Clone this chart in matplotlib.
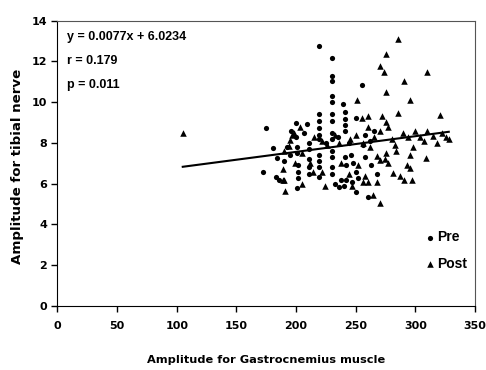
import numpy as np
import matplotlib
matplotlib.use('Agg')
import matplotlib.pyplot as plt

plt.rcParams['font.family'] = ['Liberation Sans', 'DejaVu Sans']
plt.rcParams['font.weight'] = 'bold'

# Pre (circulos)
pre_x = [175, 172, 181, 184, 183, 186,
         200, 209, 219.5, 229.8, 229.8, 229.8, 229.8, 229.8, 239.5, 255, 250,
         219.5, 219.5, 219.5, 219.5, 219.5, 219.5, 219.5, 219.5, 219.5,
         229.8, 229.8, 229.8, 229.8, 229.8, 229.8, 229.8, 229.8,
         241, 241, 241, 241, 241, 242, 242, 240,
         200, 196, 201, 201, 202, 202, 202, 200.5,
         211, 211, 211, 211, 211,
         233, 236, 238, 246, 248, 250, 252, 247,
         250, 260, 256, 262, 258, 192, 195, 190,
         207, 225, 235, 244, 265, 263, 268, 258]
pre_y = [8.73, 6.6, 7.74, 7.25, 6.35, 6.2,
         8.97, 8.94, 12.77, 12.17, 11.3, 11.05, 10.3, 10.0, 9.92, 10.85, 9.23,
         9.4, 9.1, 8.75, 8.4, 8.2, 7.4, 7.1, 6.8, 6.35,
         9.4, 9.1, 8.5, 8.2, 7.6, 7.3, 6.8, 6.5,
         9.5, 9.2, 8.9, 8.6, 7.3, 6.9, 6.2, 5.9,
         8.3, 8.6, 7.8, 7.5, 6.9, 6.6, 6.3, 5.8,
         8.0, 7.7, 7.2, 6.8, 6.5,
         6.0, 5.85, 6.2, 7.4, 7.0, 6.6, 6.3, 6.1,
         5.57, 5.34, 7.9, 8.1, 8.4, 7.8, 7.4, 7.1,
         8.5, 8.0, 8.3, 8.0, 8.6, 6.9, 6.5, 7.3]

# Post (triangulos)
post_x = [105, 285.7, 275.4, 270.3, 273.7, 309.5, 290.4, 275.4, 295.5, 250.8,
          285.7, 320.6, 260.5, 255, 271.7, 275.4,
          290, 294, 300, 304, 315, 326, 322, 310,
          194, 308.9, 295.5, 293.2, 295.5, 296.9, 281.2, 287.1, 290.4,
          275.4, 274.5, 277, 267.5, 270.3, 268, 260.5, 256.3, 264.7, 270.3,
          190.7, 188.7, 188.7, 189.9,
          195, 198, 203, 197, 190, 199, 205, 215, 222, 226, 233, 236, 245,
          250, 256, 262, 265, 280, 283, 298, 307, 318, 328, 212, 214, 222,
          238, 244, 252, 258, 247, 205, 224, 284, 270, 277, 260]
post_y = [8.5, 13.1, 12.38, 11.79, 11.5, 11.5, 11.02, 10.48, 10.12, 10.12,
          9.46, 9.38, 9.33, 9.23, 9.3, 9.05,
          8.5, 8.3, 8.6, 8.3, 8.35, 8.3, 8.5, 8.6,
          7.86, 7.25, 7.42, 6.93, 6.78, 6.19, 6.53, 6.39, 6.19,
          7.51, 7.22, 7.04, 7.37, 7.17, 6.07, 6.07, 6.07, 5.45, 5.04,
          5.66, 6.7, 6.2, 6.19,
          8.15, 8.5, 8.8, 8.4, 7.6, 7.0, 6.0, 8.3, 8.1, 7.9, 8.4, 8.0, 8.2,
          8.4, 8.0, 7.8, 8.3, 8.2, 7.9, 7.8, 8.1, 8.0, 8.2, 7.0, 6.6, 6.6,
          7.0, 6.5, 6.9, 6.4, 5.9, 7.5, 5.9, 7.6, 8.6, 8.8, 8.8]

# recta de regresion
pendiente = 0.0077
intercepto = 6.0234
x_recta = np.array([105, 328])

fig = plt.figure(figsize=(4.86, 3.70), dpi=100)
ax = fig.add_axes([0.1183, 0.173, 0.8591, 0.771])

ax.scatter(pre_x, pre_y, marker='o', s=14, color='black', linewidths=0, label='Pre')
ax.scatter(post_x, post_y, marker='^', s=22, color='black', linewidths=0, label='Post')
ax.plot(x_recta, pendiente * x_recta + intercepto, color='black', lw=1.5)

ax.set_xlim(0, 350)
ax.set_ylim(0, 14)
ax.set_xticks(np.arange(0, 351, 50))
ax.set_yticks(np.arange(0, 15, 2))
ax.tick_params(direction='out', length=4, width=1)
ax.tick_params(axis='x', pad=7)
for lab in ax.get_xticklabels() + ax.get_yticklabels():
    lab.set_fontweight('bold')
    lab.set_family('DejaVu Sans')
    lab.set_fontsize(8)
ax.spines['top'].set_color('#555555')
ax.spines['right'].set_color('#555555')

ax.set_xlabel('Amplitude for Gastrocnemius muscle', fontsize=8.2, fontweight='bold',
              family='DejaVu Sans', va='center')
ax.set_ylabel('Amplitude for tibial nerve', fontsize=9.6, fontweight='bold',
              family='DejaVu Sans', va='center')
ax.xaxis.set_label_coords(0.5, -0.189)
ax.yaxis.set_label_coords(-0.0946, 0.49)

ax.text(0.022, 0.965, 'y = 0.0077x + 6.0234', transform=ax.transAxes, fontsize=9,
        fontweight='bold', va='top')
ax.text(0.022, 0.88, 'r = 0.179', transform=ax.transAxes, fontsize=9,
        fontweight='bold', va='top')
ax.text(0.022, 0.795, 'p = 0.011', transform=ax.transAxes, fontsize=9,
        fontweight='bold', va='top')

ax.legend(loc='center left', bbox_to_anchor=(0.869, 0.1945), frameon=False, fontsize=10,
          handletextpad=0.2, handlelength=0.6, labelspacing=0.9, borderaxespad=0,
          borderpad=0.4)

plt.savefig('out.png', dpi=100)
